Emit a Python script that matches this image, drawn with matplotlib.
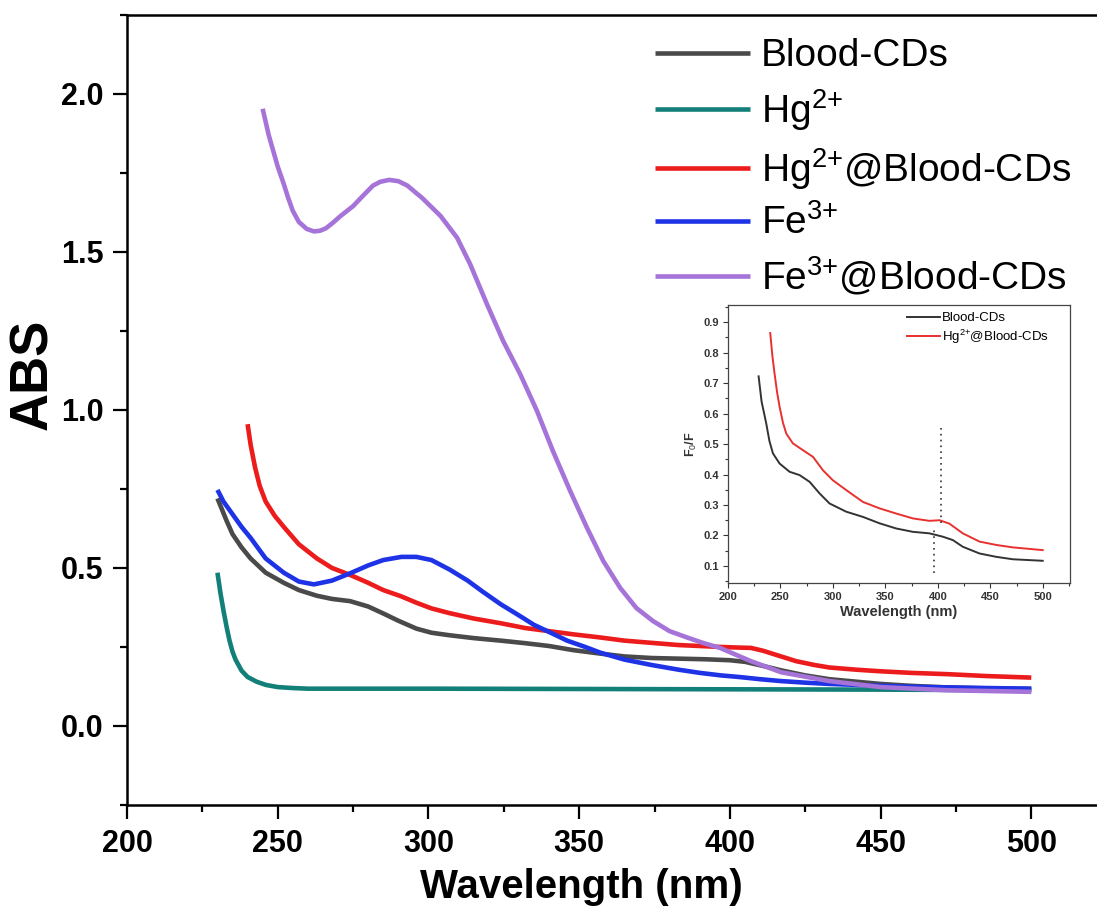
import matplotlib
matplotlib.use("Agg")
import matplotlib.pyplot as plt
from matplotlib.ticker import MultipleLocator

plt.rcParams["font.family"] = ["Liberation Sans", "DejaVu Sans"]
plt.rcParams["mathtext.fontset"] = "custom"
plt.rcParams["mathtext.rm"] = "Liberation Sans"
plt.rcParams["mathtext.it"] = "Liberation Sans"
plt.rcParams["mathtext.bf"] = "Liberation Sans:bold"

# main UV-vis spectra
cds_x = [230, 233, 235, 238, 241, 246, 252, 257, 263, 268, 274, 280, 285, 290, 296, 301,
         307, 315, 324, 332, 340, 348, 357, 365, 374, 383, 392, 400, 405, 411, 417, 425,
         433, 442, 450, 460, 472, 485, 500]
cds_y = [0.72, 0.65, 0.607, 0.565, 0.53, 0.485, 0.453, 0.43, 0.412, 0.402, 0.395, 0.378,
         0.356, 0.333, 0.308, 0.295, 0.287, 0.278, 0.27, 0.262, 0.253, 0.24, 0.229, 0.22,
         0.215, 0.213, 0.211, 0.208, 0.203, 0.19, 0.176, 0.16, 0.148, 0.14, 0.133, 0.127,
         0.122, 0.119, 0.117]

hg_x = [230, 231, 232, 233, 234, 235, 236, 238, 240, 243, 246, 250, 255, 260, 300, 350,
        400, 450, 500]
hg_y = [0.485, 0.42, 0.365, 0.315, 0.27, 0.235, 0.21, 0.175, 0.155, 0.14, 0.13, 0.123,
        0.12, 0.118, 0.118, 0.117, 0.116, 0.115, 0.113]

hgcds_x = [240, 241, 242.5, 244, 246, 249, 252, 257, 263, 268, 274, 280, 285, 291, 296,
           301, 307, 315, 324, 332, 340, 348, 357, 365, 374, 383, 390, 397, 403, 407, 411,
           417, 422, 428, 433, 442, 450, 460, 472, 485, 500]
hgcds_y = [0.955, 0.89, 0.817, 0.76, 0.71, 0.665, 0.63, 0.575, 0.53, 0.50, 0.478, 0.453,
           0.43, 0.41, 0.39, 0.372, 0.357, 0.34, 0.325, 0.31, 0.30, 0.29, 0.28, 0.27,
           0.263, 0.256, 0.253, 0.25, 0.248, 0.247, 0.238, 0.22, 0.205, 0.193, 0.185,
           0.178, 0.173, 0.168, 0.164, 0.158, 0.153]

fe_x = [230, 232, 235, 238, 241, 246, 252, 257, 262, 268, 274, 280, 285, 291, 296, 301,
        307, 313, 318, 324, 330, 335, 341, 346, 352, 357, 365, 374, 383, 390, 397, 403,
        410, 417, 425, 433, 442, 450, 460, 472, 485, 500]
fe_y = [0.747, 0.71, 0.67, 0.63, 0.595, 0.53, 0.485, 0.457, 0.448, 0.46, 0.483, 0.508,
        0.525, 0.535, 0.535, 0.525, 0.495, 0.46, 0.425, 0.385, 0.35, 0.32, 0.293, 0.27,
        0.25, 0.232, 0.21, 0.193, 0.178, 0.168, 0.16, 0.155, 0.148, 0.142, 0.137, 0.133,
        0.13, 0.127, 0.124, 0.122, 0.12, 0.118]

fecds_x = [245, 247, 248.5, 250, 252, 253.5, 255, 257, 259.6, 262, 264, 266, 268, 271,
           275, 278, 281.6, 284, 287, 290, 293, 298, 304, 309.5, 313.8, 319.4, 324.8,
           330.4, 336, 341.3, 347, 352.6, 358, 363.6, 369, 374.5, 380, 385.8, 391, 396.7,
           407, 417, 433, 450, 472, 500]
fecds_y = [1.953, 1.87, 1.82, 1.77, 1.715, 1.67, 1.63, 1.595, 1.573, 1.565, 1.567, 1.575,
           1.59, 1.615, 1.645, 1.675, 1.71, 1.722, 1.728, 1.724, 1.71, 1.67, 1.614, 1.545,
           1.462, 1.335, 1.218, 1.114, 0.997, 0.87, 0.744, 0.627, 0.522, 0.437, 0.373,
           0.332, 0.30, 0.28, 0.263, 0.247, 0.205, 0.17, 0.142, 0.123, 0.113, 0.108]

# inset: F0/F
in_cds_x = [229.2, 232, 236.5, 239.5, 242.9, 249.2, 258.7, 268.3, 277.8, 287.3, 296.8,
            312.7, 328.6, 344.4, 360.3, 376.2, 392, 404.8, 414.3, 423.8, 439.7, 455.6,
            471.4, 500]
in_cds_y = [0.722, 0.64, 0.567, 0.51, 0.469, 0.436, 0.409, 0.398, 0.376, 0.338, 0.305,
            0.278, 0.261, 0.24, 0.223, 0.212, 0.207, 0.196, 0.185, 0.163, 0.141, 0.13,
            0.122, 0.117]
in_hg_x = [240.3, 242.3, 244.4, 246.8, 249.2, 252.4, 255.6, 261.9, 271.4, 281, 290.5, 300,
           312.7, 328.6, 344.4, 360.3, 376.2, 392, 401.6, 411, 423.8, 439.7, 455.6, 471.4,
           500]
in_hg_y = [0.864, 0.79, 0.731, 0.67, 0.622, 0.57, 0.534, 0.502, 0.48, 0.458, 0.414, 0.381,
           0.349, 0.31, 0.289, 0.272, 0.256, 0.248, 0.25, 0.239, 0.207, 0.18, 0.169, 0.161,
           0.152]
marker_x = [403.2, 396.8]
marker_top = [0.556, 0.22]
marker_bottom = [0.24, 0.076]

series = [
    (cds_x, cds_y, "#4a4a4a", "Blood-CDs"),
    (hg_x, hg_y, "#137f79", "Hg$^{2{+}}$"),
    (hgcds_x, hgcds_y, "#ec1c1c", "Hg$^{2{+}}$@Blood-CDs"),
    (fe_x, fe_y, "#1f33e6", "Fe$^{3{+}}$"),
    (fecds_x, fecds_y, "#a673d9", "Fe$^{3{+}}$@Blood-CDs"),
]

fig = plt.figure(figsize=(10.97, 9.11), dpi=100)
ax = fig.add_axes([0.1158, 0.1164, 0.8842, 0.8672])

for x, y, c, lab in series:
    ax.plot(x, y, "-", lw=3.3, color=c, label=lab, solid_capstyle="butt")

ax.set_xlim(200, 521.8)
ax.set_ylim(-0.25, 2.25)
ax.xaxis.set_major_locator(MultipleLocator(50))
ax.xaxis.set_minor_locator(MultipleLocator(25))
ax.yaxis.set_major_locator(MultipleLocator(0.5))
ax.yaxis.set_minor_locator(MultipleLocator(0.25))
ax.tick_params(which="both", direction="out", width=1.6, top=False, right=False)
ax.tick_params(which="major", length=10, labelsize=22, pad=7)
ax.tick_params(which="minor", length=5)
for lbl in ax.get_xticklabels() + ax.get_yticklabels():
    lbl.set_fontweight("bold")
for s in ["left", "bottom", "top"]:
    ax.spines[s].set_linewidth(1.8)
ax.spines["right"].set_visible(False)

ax.set_xlabel("Wavelength (nm)", fontsize=29, fontweight="bold", labelpad=7)
ax.xaxis.label.set_x(0.468)
ax.set_ylabel("ABS", fontsize=38, fontweight="bold")
ax.yaxis.set_label_coords(-0.071, 0.545)

ax.legend(loc="upper left", bbox_to_anchor=(0.597, 0.958), bbox_transform=fig.transFigure,
          frameon=False, fontsize=28, handlelength=2.45, handletextpad=0.28,
          labelspacing=0.33, borderpad=0, borderaxespad=0)

# inset
ins = fig.add_axes([0.6636, 0.36, 0.3118, 0.3052])
ins.plot(in_cds_x, in_cds_y, "-", lw=1.4, color="#333333", label="Blood-CDs")
ins.plot(in_hg_x, in_hg_y, "-", lw=1.4, color="#e8312f", label="Hg$^{2{+}}$@Blood-CDs")
ins.vlines(marker_x, marker_bottom, marker_top, colors="#333333", linestyles=(0, (1, 2.5)),
           lw=1.2)
ins.set_xlim(200, 526)
ins.set_ylim(0.044, 0.956)
ins.xaxis.set_major_locator(MultipleLocator(50))
ins.xaxis.set_minor_locator(MultipleLocator(25))
ins.yaxis.set_major_locator(MultipleLocator(0.1))
ins.yaxis.set_minor_locator(MultipleLocator(0.05))
ins.tick_params(which="both", direction="out", width=0.8, colors="#333333",
                top=False, right=False)
ins.tick_params(which="major", length=3.5, labelsize=8, pad=3)
ins.tick_params(which="minor", length=2)
for lbl in ins.get_xticklabels() + ins.get_yticklabels():
    lbl.set_fontweight("bold")
for s in ins.spines.values():
    s.set_linewidth(0.9)
    s.set_color("#444444")
ins.set_xlabel("Wavelength (nm)", fontsize=10.5, fontweight="bold", color="#333333",
               labelpad=2)
ins.set_ylabel("F$_0$/F", fontsize=9, fontweight="bold", color="#333333", labelpad=3)
ins.legend(loc="upper left", frameon=False, fontsize=9.5, handlelength=2.5,
           handletextpad=0.15, labelspacing=0.25, borderpad=0, borderaxespad=0,
           bbox_to_anchor=(0.524, 0.975))

fig.savefig("out.png", dpi=100)
